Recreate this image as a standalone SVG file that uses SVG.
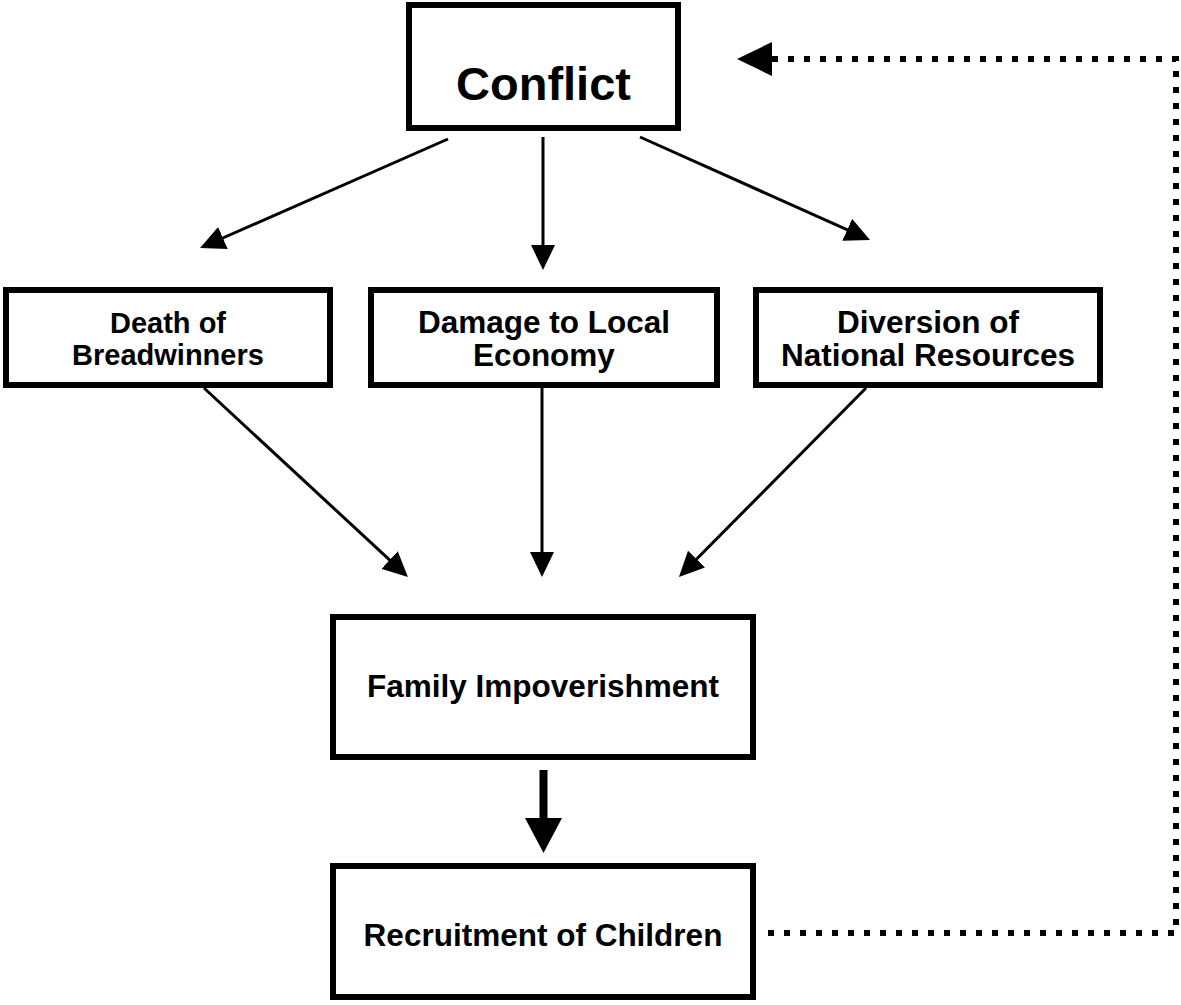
<svg xmlns="http://www.w3.org/2000/svg" width="1181" height="1005" viewBox="0 0 1181 1005">
<style>
.box{fill:#fff;stroke:#000;stroke-width:6}
.t{font-family:"Liberation Sans",Arial,sans-serif;font-weight:bold;fill:#000;text-anchor:middle}
.c{fill:none;stroke:#000;stroke-width:3}
.dot{fill:none;stroke:#000;stroke-width:6;stroke-dasharray:6 10}
</style>
<defs>
<marker id="ah" markerUnits="userSpaceOnUse" viewBox="0 0 25 24" refX="15" refY="12" markerWidth="25" markerHeight="24" orient="auto">
<path d="M0,0 L25,12 L0,24 Z" fill="#000"/>
</marker>
</defs>
<rect width="1181" height="1005" fill="#fff"/>
<g id="connectors">
<line class="c" x1="448" y1="139" x2="209.2" y2="244" marker-end="url(#ah)"/>
<line class="c" x1="543" y1="137" x2="543" y2="260" marker-end="url(#ah)"/>
<line class="c" x1="640" y1="137" x2="860.9" y2="235.9" marker-end="url(#ah)"/>
<line class="c" x1="204" y1="388" x2="400.6" y2="570.2" marker-end="url(#ah)"/>
<line class="c" x1="542" y1="388" x2="542" y2="567" marker-end="url(#ah)"/>
<line class="c" x1="866" y1="388" x2="686" y2="569.8" marker-end="url(#ah)"/>
<rect x="539.5" y="770" width="8" height="49" fill="#000"/>
<polygon points="525,818 562,818 543.5,853" fill="#000"/>
<path class="dot" d="M768,933 H1176 V59 H772"/>
<polygon points="737,59 772,42 772,76" fill="#000"/>
</g>
<g id="conflict">
<rect class="box" x="409" y="5" width="269" height="123"/>
<text class="t" x="543.5" y="100" font-size="47">Conflict</text>
</g>
<g id="death">
<rect class="box" x="6" y="290" width="324" height="95"/>
<text class="t" x="168" y="333" font-size="29">Death of</text>
<text class="t" x="168" y="365" font-size="29">Breadwinners</text>
</g>
<g id="damage">
<rect class="box" x="371" y="290" width="346" height="95"/>
<text class="t" x="544" y="333" font-size="31.5">Damage to Local</text>
<text class="t" x="544" y="366" font-size="31.5">Economy</text>
</g>
<g id="diversion">
<rect class="box" x="756" y="290" width="344" height="95"/>
<text class="t" x="928" y="333" font-size="31.5">Diversion of</text>
<text class="t" x="928" y="366" font-size="31.5">National Resources</text>
</g>
<g id="family">
<rect class="box" x="333" y="617" width="420" height="140"/>
<text class="t" x="543" y="697" font-size="31.5">Family Impoverishment</text>
</g>
<g id="recruitment">
<rect class="box" x="333" y="866" width="420" height="131"/>
<text class="t" x="543" y="946" font-size="31.5">Recruitment of Children</text>
</g>
</svg>
